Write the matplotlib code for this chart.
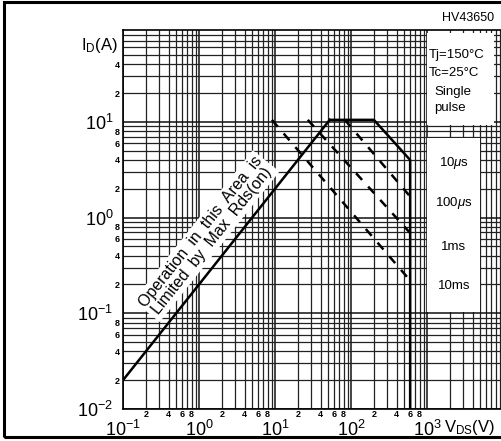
import numpy as np
import matplotlib
matplotlib.use("Agg")
import matplotlib.pyplot as plt
from matplotlib.ticker import FixedLocator, FuncFormatter
from matplotlib.patches import Rectangle

plt.rcParams['font.family'] = ['Liberation Sans', 'DejaVu Sans']
plt.rcParams['mathtext.fontset'] = 'custom'
plt.rcParams['mathtext.rm'] = 'Liberation Sans'
plt.rcParams['mathtext.it'] = 'Liberation Sans:italic'
plt.rcParams['mathtext.bf'] = 'Liberation Sans:bold'

# safe operating area
v_rds = [0.1, 52.5]
i_rds = [0.02, 10.5]
v_10us = [52.5, 200, 600, 600]
i_10us = [10.5, 10.5, 4.0, 0.01]
v_100us = [83, 600]
i_100us = [10.5, 1.66]
v_1ms = [27, 600]
i_1ms = [10.5, 0.69]
v_10ms = [9.1, 600]
i_10ms = [10.5, 0.22]

pulse_labels = ['10$\\mu$s', '100$\\mu$s', '1ms', '10ms']
cond_labels = ['Tj=150°C', 'Tc=25°C', 'Single', 'pulse']
x_decades = [1e-1, 1e0, 1e1, 1e2, 1e3]
y_decades = [1e-2, 1e-1, 1e0, 1e1]

W, H = 501, 441
fig = plt.figure(figsize=(W / 100, H / 100), dpi=100)
ax = fig.add_axes([123 / W, 32 / H, 380 / W, 379 / H])

ax.set_xscale('log')
ax.set_yscale('log')
ax.set_xlim(0.1, 1e4)
ax.set_ylim(0.01, 10 ** 1.96)

# grid
xminor = [m * d for d in [0.1, 1, 10, 100, 1000] for m in range(2, 10)]
yminor = [m * d for d in [0.01, 0.1, 1, 10] for m in range(2, 10)]
ax.xaxis.set_major_locator(FixedLocator(x_decades))
ax.yaxis.set_major_locator(FixedLocator(y_decades))
ax.xaxis.set_minor_locator(FixedLocator(xminor))
ax.yaxis.set_minor_locator(FixedLocator([v for v in yminor if v < 90]))


def dec_fmt(v, pos):
    return '$10^{%d}$' % int(round(np.log10(v)))


def minor_x(v, pos):
    m = int(round(v / 10 ** np.floor(np.log10(v) + 1e-9)))
    if m in (2, 4, 6, 8) and v < 1000:
        return str(m)
    return ''


def minor_y(v, pos):
    m = int(round(v / 10 ** np.floor(np.log10(v) + 1e-9)))
    if m in (2, 4, 6, 8) and not (v > 10 and m > 4):
        return str(m)
    return ''


ax.xaxis.set_major_formatter(FuncFormatter(dec_fmt))
ax.yaxis.set_major_formatter(FuncFormatter(dec_fmt))
ax.xaxis.set_minor_formatter(FuncFormatter(minor_x))
ax.yaxis.set_minor_formatter(FuncFormatter(minor_y))

ax.tick_params(which='both', length=0)
ax.tick_params(axis='x', which='major', labelsize=13, pad=7.5)
ax.tick_params(axis='y', which='major', labelsize=13, pad=7)
ax.tick_params(axis='x', which='minor', labelsize=6.5, pad=1)
ax.tick_params(axis='y', which='minor', labelsize=6.5, pad=2)
for lab in ax.get_xminorticklabels() + ax.get_yminorticklabels():
    lab.set_fontweight('bold')

ax.grid(which='major', color='#111111', lw=1.1)
ax.grid(which='minor', color='#222222', lw=0.9)
ax.set_axisbelow(True)
for s in ['left', 'bottom', 'top']:
    ax.spines[s].set_linewidth(1.2)
ax.spines['right'].set_visible(False)

# white boxes for the annotations
ax.add_patch(Rectangle((0.8, 0.749), 0.176, 0.243, transform=ax.transAxes,
                       facecolor='white', edgecolor='none', zorder=3))
ax.add_patch(Rectangle((0.8, 0.256), 0.139, 0.459, transform=ax.transAxes,
                       facecolor='white', edgecolor='none', zorder=3))

# curves
ax.plot(v_rds, i_rds, color='black', lw=1.8, zorder=5)
ax.plot(v_10us, i_10us, color='black', lw=1.8, zorder=5)
for v, i in [(v_100us, i_100us), (v_1ms, i_1ms), (v_10ms, i_10ms)]:
    ax.plot(v, i, color='black', lw=1.8, linestyle=(0, (3.6, 3.6)), zorder=5)

ax.text(0.219, 0.456, 'Operation  in  this  Area  is\nLimited  by  Max  Rds(on)',
        transform=ax.transAxes, rotation=51.5, rotation_mode='anchor',
        ha='center', va='center', multialignment='center', fontsize=11.5,
        linespacing=1.0, zorder=4,
        bbox=dict(facecolor='white', edgecolor='none', pad=1.5))

for lab, yy in zip(pulse_labels, [0.649, 0.544, 0.427, 0.325]):
    ax.text(0.871, yy, lab, transform=ax.transAxes, ha='center', va='center',
            fontsize=9.5, zorder=6)
for lab, xx, yy in zip(cond_labels, [0.805, 0.805, 0.82, 0.82],
                       [0.934, 0.887, 0.836, 0.794]):
    ax.text(xx, yy, lab, transform=ax.transAxes, ha='left', va='center',
            fontsize=9.5, zorder=6)

ax.text(-0.015, 0.96, '$\\mathregular{I_D(A)}$', transform=ax.transAxes,
        ha='right', va='center', fontsize=12)
ax.text(0.845, -0.05, '$\\mathregular{V_{DS}(V)}$', transform=ax.transAxes,
        ha='left', va='center', fontsize=12)
fig.text(468 / W, 1 - 18 / H, 'HV43650', ha='center', va='center', fontsize=9)

# outer frame of the scanned figure
fig.add_artist(Rectangle((4 / W, 4 / H), 1.2, 1 - 6 / H, transform=fig.transFigure,
                         facecolor='none', edgecolor='black', lw=2.2))

fig.savefig('out.png', dpi=100)
